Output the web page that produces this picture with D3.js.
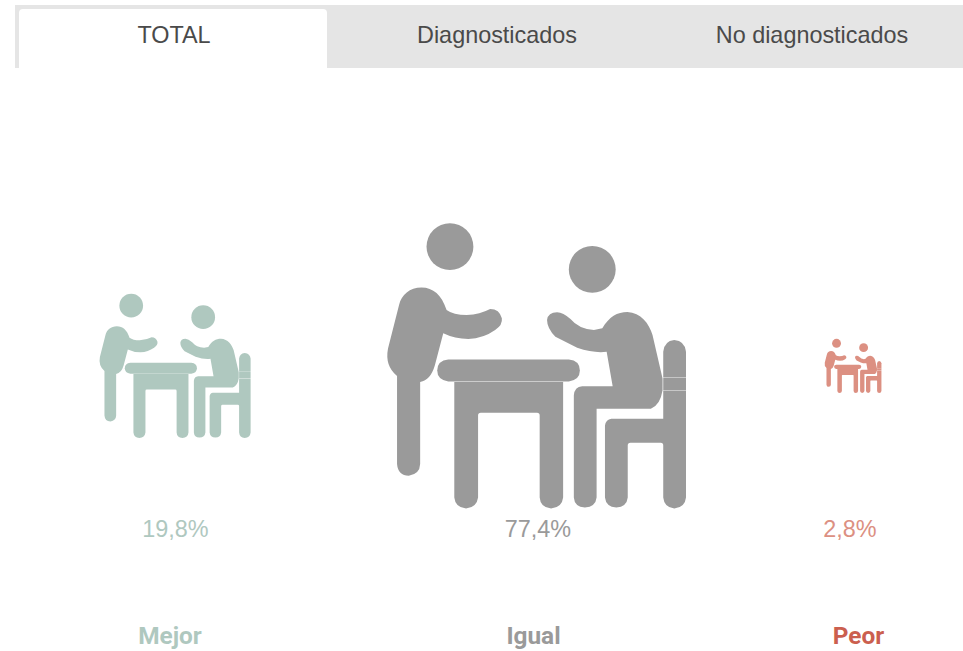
<!DOCTYPE html>
<html>
<head>
<meta charset="utf-8">
<script src="https://cdn.jsdelivr.net/npm/d3@7"></script>
<style>
  html, body { margin: 0; padding: 0; background: #fff; overflow: hidden; }
  svg { display: block; }
  text { text-anchor: middle; }
</style>
</head>
<body>
<div id="chart"></div>
<script>
const tabs = ['TOTAL', 'Diagnosticados', 'No diagnosticados'];
const categories = ['Mejor', 'Igual', 'Peor'];
const values = [19.8, 77.4, 2.8];
const percentLabels = ['19,8%', '77,4%', '2,8%'];
const iconColors = ['#afc8bf', '#9a9a9a', '#dc9082'];
const nameColors = ['#afc8bf', '#9a9a9a', '#cb5f4f'];

const width = 963;
const height = 651;

// icon drawn in its own box, scaled per value below
const iconW = 893;
const iconH = 851;
const iconX0 = 22;
const iconY0 = 27;

const iconParts = [
  // left person
  'M52 482 L52 745 Q55 780 87 780 Q120 775 121 745 L121 500 Q152 495 165 450 L190 355 Q225 372 265 372 Q310 370 345 345 Q368 330 365 310 Q358 282 330 282 Q300 298 260 300 Q220 300 200 285 C185 240 160 218 125 218 C90 218 65 240 58 270 L25 400 Q15 452 52 482 Z',
  // table top
  'M205 433 L565 433 Q598 436 598 466 Q598 494 565 498.5 L205 498.5 Q172 494 172 466 Q172 436 205 433 Z',
  // table legs
  'M223 500 L548 500 L548 845 Q545 875 512 878 Q480 875 478 845 L478 600 Q478 592 470 592 L302 592 Q294 592 294 600 L294 845 Q290 875 258 878 Q226 875 223 845 Z',
  // right person
  'M500 315 Q503 292 530 292 Q548 293 570 312 Q595 342 640 345 L665 340 C685 305 710 291 740 291 C780 293 805 325 815 360 L845 490 L845 525 Q838 570 810 580 L648 580 L648 845 Q645 873 613 875 Q582 873 580 845 L580 540 Q582 515 605 513 L696 513 L678 410 Q640 415 590 398 L525 365 Q500 340 500 315 Z',
  // chair
  'M847 410 Q850 378 880 375 Q912 378 915 410 L915 486.5 L847 486.5 Z',
  'M847 488 L915 488 L915 524.5 L847 524.5 Z',
  'M847 526 L915 526 L915 845 Q912 875 880 878 Q850 875 847 845 L847 690 Q847 682 840 682 L749 682 Q741 682 741 690 L741 845 Q738 873 707 875 Q676 873 673 845 L673 630 Q676 612 692 610 L847 610 Z'
];
const iconHeads = [
  { cx: 210, cy: 96, r: 70 },
  { cx: 635, cy: 164, r: 70 }
];

// icon area follows the value
const sizeScale = d3.scaleSqrt().domain([0, 77.4]).range([0, 299]);
const iconCentre = d3.scaleOrdinal().domain(categories).range([175, 536.5, 853]);
const percentX = d3.scaleOrdinal().domain(categories).range([175.5, 538, 850]);
const nameX = d3.scaleOrdinal().domain(categories).range([170, 533.5, 858.5]);
const tabX = d3.scaleOrdinal().domain(tabs).range([174, 497, 812]);
const centreY = 366;

const svg = d3
  .select('#chart')
  .append('svg')
  .attr('width', width)
  .attr('height', height);

// tab bar
svg
  .append('rect')
  .attr('x', 15)
  .attr('y', 5)
  .attr('width', width - 15)
  .attr('height', 63)
  .attr('fill', '#e5e5e5');

svg
  .append('path')
  .attr('d', 'M19 68 L19 13 Q19 9 23 9 L323 9 Q327 9 327 13 L327 68 Z')
  .attr('fill', '#fff');

svg
  .selectAll('text.tab')
  .data(tabs)
  .enter()
  .append('text')
  .attr('class', 'tab')
  .attr('x', d => tabX(d))
  .attr('y', 42.5)
  .attr('fill', '#4a4a4a')
  .style('font-family', '"Liberation Sans", Arial, sans-serif')
  .style('font-size', '23.4px')
  .text(d => d);

// pictograms
const icons = svg
  .selectAll('g.icon')
  .data(categories)
  .enter()
  .append('g')
  .attr('class', 'icon')
  .attr('fill', (d, i) => iconColors[i])
  .attr('transform', (d, i) => {
    const k = sizeScale(values[i]) / iconW;
    const x = iconCentre(d) - (iconW * k) / 2 - iconX0 * k;
    const y = centreY - (iconH * k) / 2 - iconY0 * k;
    return `translate(${x},${y}) scale(${k})`;
  });

icons
  .selectAll('path')
  .data(iconParts)
  .enter()
  .append('path')
  .attr('d', d => d);

icons
  .selectAll('circle')
  .data(iconHeads)
  .enter()
  .append('circle')
  .attr('cx', d => d.cx)
  .attr('cy', d => d.cy)
  .attr('r', d => d.r);

// percentages
svg
  .selectAll('text.percent')
  .data(categories)
  .enter()
  .append('text')
  .attr('class', 'percent')
  .attr('x', d => percentX(d))
  .attr('y', 537)
  .attr('fill', (d, i) => iconColors[i])
  .style('font-family', '"Liberation Sans", Arial, sans-serif')
  .style('font-size', '23.4px')
  .text((d, i) => percentLabels[i]);

// category names
svg
  .selectAll('text.name')
  .data(categories)
  .enter()
  .append('text')
  .attr('class', 'name')
  .attr('x', d => nameX(d))
  .attr('y', 644)
  .attr('fill', (d, i) => nameColors[i])
  .style('font-family', 'Roboto, sans-serif')
  .style('font-weight', 700)
  .style('font-size', '24.4px')
  .text(d => d);
</script>
</body>
</html>
